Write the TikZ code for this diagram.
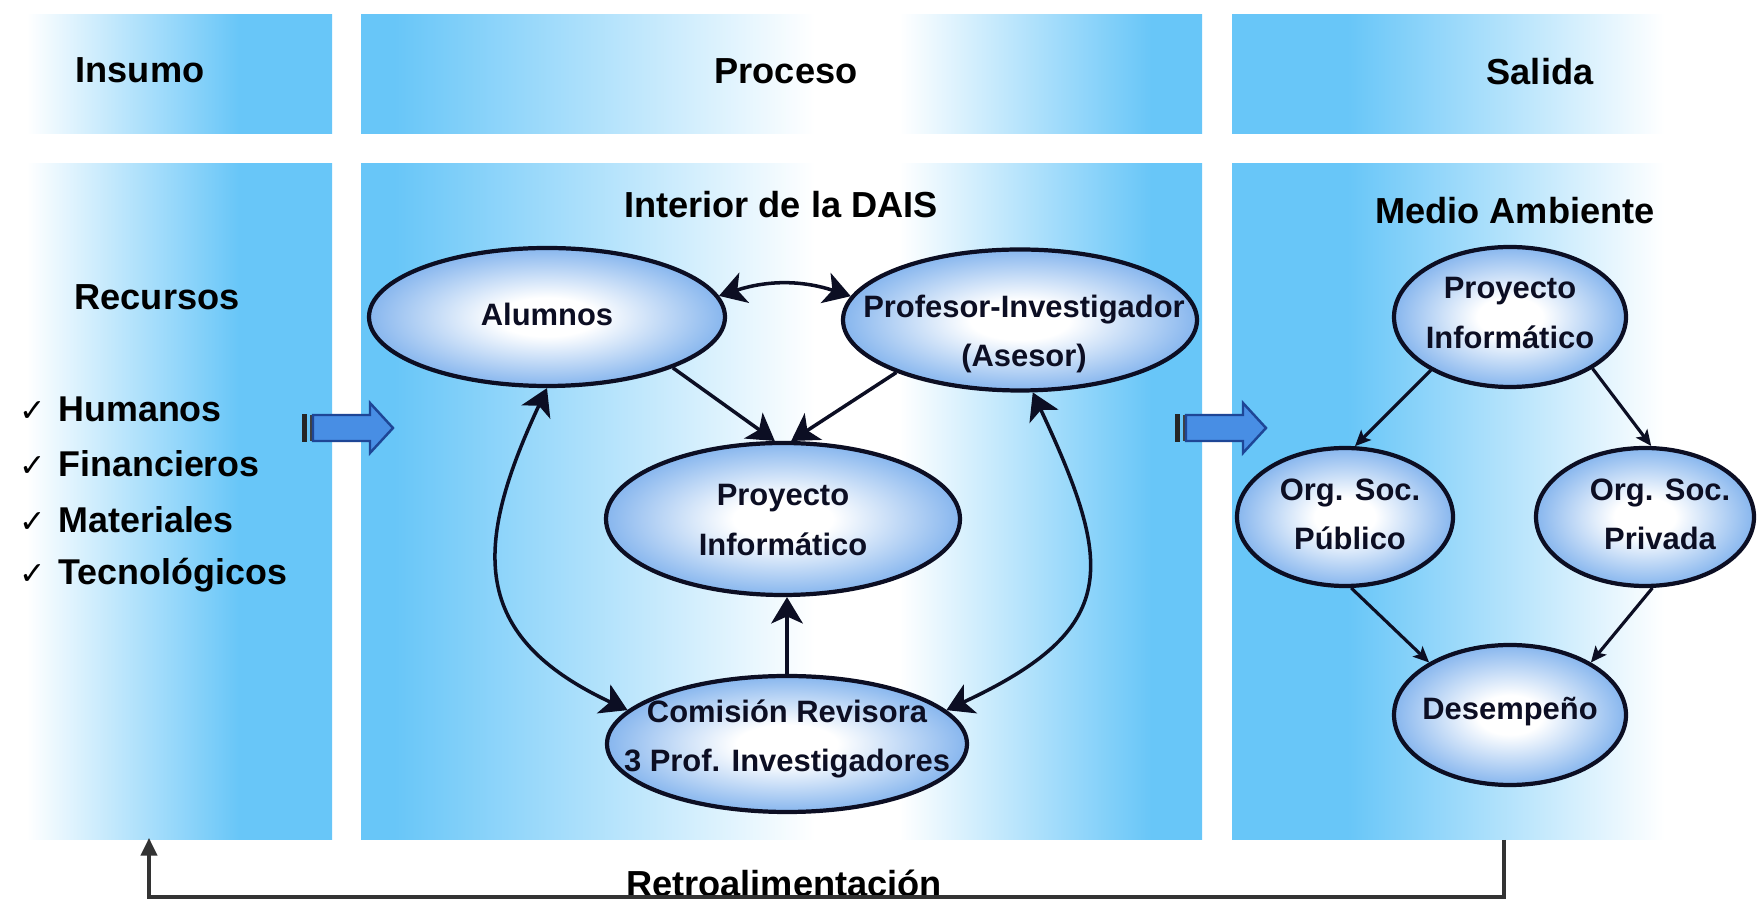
\documentclass[tikz,border=0pt]{standalone}
\usepackage{fontspec}
\setmainfont{Liberation Sans}
\newfontfamily\checkfont{DejaVu Sans}
\usetikzlibrary{arrows.meta,shapes.geometric}
\definecolor{pblue}{RGB}{104,198,248}
\definecolor{ellblue}{RGB}{135,182,238}
\definecolor{arrfill}{RGB}{72,142,228}
\definecolor{arrdraw}{RGB}{30,70,150}
\definecolor{edgecol}{RGB}{12,14,35}
% the path box covers 25bp..75bp of each shading
\pgfdeclarehorizontalshading{insshade}{100bp}{color(0bp)=(white); color(29bp)=(white); color(61bp)=(pblue); color(100bp)=(pblue)}
\pgfdeclarehorizontalshading{proshade}{100bp}{color(0bp)=(pblue); color(27bp)=(pblue); color(52bp)=(white); color(57bp)=(white); color(72bp)=(pblue); color(100bp)=(pblue)}
\pgfdeclarehorizontalshading{salshade}{100bp}{color(0bp)=(pblue); color(36bp)=(pblue); color(66bp)=(white); color(100bp)=(white)}
\pgfdeclareradialshading{ellshade}{\pgfpoint{0bp}{0bp}}{color(0bp)=(white); color(7bp)=(white); color(25bp)=(ellblue); color(50bp)=(ellblue)}
\tikzset{
  panel/.style={rectangle, draw=none, inner sep=0pt, outer sep=0pt, anchor=north west},
  hdr/.style={font=\fontsize{10.3}{12}\selectfont\bfseries, inner sep=0pt},
  item/.style={font=\fontsize{10.2}{12}\selectfont\bfseries, inner sep=0pt, anchor=west},
  ell/.style={ellipse, draw=edgecol, line width=1.2pt, shading=ellshade, inner sep=0pt},
  etext/.style={font=\fontsize{8.8}{14}\selectfont\bfseries, text=edgecol, align=center, inner sep=0pt},
  con/.style={line width=1pt, draw=edgecol, -{Stealth[length=7.5pt,width=9pt,inset=2pt]}},
  bicon/.style={line width=1pt, draw=edgecol, {Stealth[length=7.5pt,width=9pt,inset=2pt]}-{Stealth[length=7.5pt,width=9pt,inset=2pt]}},
  rcon/.style={line width=0.9pt, draw=edgecol, -{Stealth[length=4.5pt,width=4pt,inset=1pt]}},
  fb/.style={line width=0.9pt, draw=black!80},
  barrow/.pic={
    \fill[black!85] (0,-14) rectangle (5,14);
    \draw[black!75, line width=0.6pt] (9,-13) -- (9,13);
    \draw[draw=arrdraw, fill=arrfill, line width=0.7pt] (11,-13) -- (68,-13) -- (68,-25) -- (91,0) -- (68,25) -- (68,13) -- (11,13) -- cycle;
  }
}
\newcommand{\chk}{{\checkfont\mdseries\fontsize{9}{9}\selectfont ✓}\hspace{3.5pt}}
\begin{document}
\begin{tikzpicture}[x=0.1mm, y=0.1mm]
\useasboundingbox (0,0) rectangle (1759,-901);
\fill[white] (0,0) rectangle (1759,-901);
% panels
\node[panel, shading=insshade, minimum width=33.2mm, minimum height=11.9mm] (insH) at (0,-15) {};
\node[panel, shading=insshade, minimum width=33.2mm, minimum height=67.6mm] (insB) at (0,-164) {};
\node[panel, shading=proshade, minimum width=84.1mm, minimum height=11.9mm] (proH) at (361,-15) {};
\node[panel, shading=proshade, minimum width=84.1mm, minimum height=67.6mm] (proB) at (361,-164) {};
\node[panel, shading=salshade, minimum width=52.7mm, minimum height=11.9mm] (salH) at (1232,-15) {};
\node[panel, shading=salshade, minimum width=52.7mm, minimum height=67.6mm] (salB) at (1232,-164) {};
% header texts
\node[hdr] (tIns) at (140,-70) {Insumo};
\node[hdr] (tPro) at (786,-71) {Proceso};
\node[hdr] (tSal) at (1540,-72) {Salida};
\node[hdr] (tRec) at (157,-297) {Recursos};
\node[hdr] (tInt) at (781,-205) {Interior de la DAIS};
\node[hdr] (tMed) at (1515,-211) {Medio Ambiente};
\node[hdr] (tRet) at (784,-883) {Retroalimentación};
% list
\node[item] (i1) at (19,-409) {\chk Humanos};
\node[item] (i2) at (19,-464) {\chk Financieros};
\node[item] (i3) at (19,-520) {\chk Materiales};
\node[item] (i4) at (19,-575) {\chk Tecnológicos};
% block arrows
\pic (ba1) at (302,-428) {barrow};
\pic (ba2) at (1175,-428) {barrow};
% ellipses
\node[ell, minimum width=35.6mm, minimum height=13.8mm] (alumnos) at (547,-317) {};
\node[ell, minimum width=35.4mm, minimum height=14.1mm] (prof) at (1020,-320) {};
\node[ell, minimum width=35.4mm, minimum height=15.2mm] (proyC) at (783,-519) {};
\node[ell, minimum width=36mm, minimum height=13.6mm] (comision) at (787,-744) {};
\node[ell, minimum width=23.2mm, minimum height=14mm] (proyR) at (1510,-317) {};
\node[ell, minimum width=21.6mm, minimum height=13.8mm] (pub) at (1345,-517) {};
\node[ell, minimum width=21.8mm, minimum height=13.8mm] (priv) at (1645,-517) {};
\node[ell, minimum width=23.2mm, minimum height=14mm] (des) at (1510,-715) {};
% ellipse texts
\node[etext] (alumnosT) at (547,-314) {Alumnos};
\node[etext] (profT) at (1024,-334) {Profesor-Investigador\\(Asesor)};
\node[etext] (proyCT) at (783,-520) {Proyecto\\Informático};
\node[etext] (comisionT) at (787,-739) {Comisión Revisora\\3 Prof. Investigadores};
\node[etext] (proyRT) at (1510,-313) {Proyecto\\Informático};
\node[etext] (pubT) at (1350,-514) {Org. Soc.\\Público};
\node[etext] (privT) at (1660,-514) {Org. Soc.\\Privada};
\node[etext] (desT) at (1510,-712) {Desempeño};
% connectors (centre)
\draw[bicon] (alumnos.7) to[bend left=18] (prof.172);
\draw[con] (alumnos.-22) -- (proyC.96);
\draw[con] (prof.-157) -- (proyC.84);
\draw[con] (comision.north) -- (comision.north |- proyC.south);
\draw[bicon] (alumnos.-90) to[out=-115, in=155, looseness=1.35] (comision.168);
\draw[bicon] (prof.-80) to[out=-65, in=25, looseness=1.5] (comision.12);
% connectors (right)
\draw[rcon] (proyR.-146) -- (pub.82);
\draw[rcon] (proyR.-32) -- (priv.85);
\draw[rcon] (pub.-85) -- (des.147);
\draw[rcon] (priv.-84) -- (des.33);
% feedback
\coordinate (fbR) at (1504,-840);
\coordinate (fbB) at (1504,-897);
\coordinate (fbL) at (149,-838);
\draw[fb, -{Triangle[length=5pt,width=4.6pt]}] (fbR) -- (fbB) -| (fbL);
\end{tikzpicture}
\end{document}
